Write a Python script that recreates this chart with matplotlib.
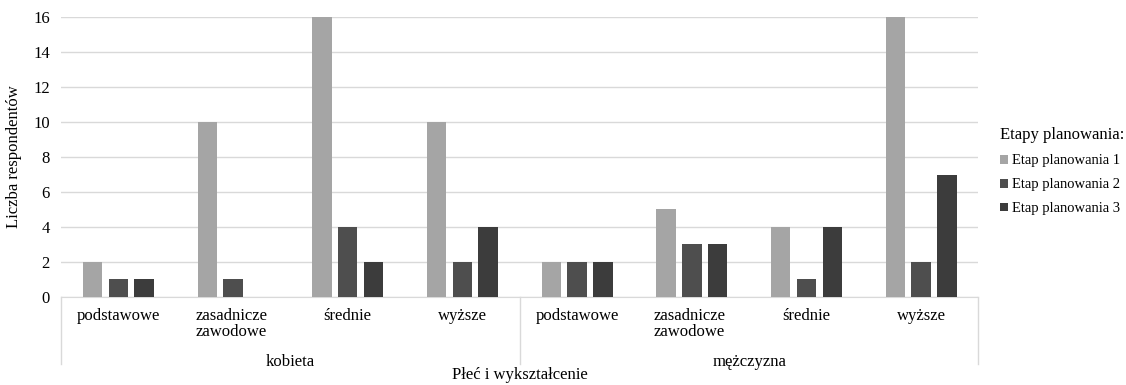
import matplotlib
matplotlib.use('Agg')
import matplotlib.pyplot as plt
import numpy as np

plt.rcParams['font.family'] = ['Liberation Serif', 'DejaVu Serif']

genders = ["kobieta", "mężczyzna"]
education = ["podstawowe", "zasadnicze\nzawodowe", "średnie", "wyższe"]
series_names = ["Etap planowania 1", "Etap planowania 2", "Etap planowania 3"]
stage1 = [2, 10, 16, 10, 2, 5, 4, 16]
stage2 = [1, 1, 4, 2, 2, 3, 1, 2]
stage3 = [1, 0, 2, 4, 2, 3, 4, 7]
colors = ["#a5a5a5", "#4e4e4e", "#3c3c3c"]

fig = plt.figure(figsize=(11.26, 3.85), dpi=100)
ax = fig.add_axes([0.0542, 0.2286, 0.8148, 0.7272])

n = len(stage1)
x = np.arange(n)
width = 0.17
step = 0.225
for i, (vals, name) in enumerate(zip([stage1, stage2, stage3], series_names)):
    ax.bar(x + (i - 1) * step, vals, width, color=colors[i], label=name, zorder=3)

ax.set_xlim(-0.5, n - 0.5)
ax.set_ylim(0, 16)
ax.set_yticks(range(0, 17, 2))
ax.yaxis.grid(True, color="#d9d9d9", linewidth=1, zorder=0)
for s in ["top", "right", "left"]:
    ax.spines[s].set_visible(False)
ax.spines["bottom"].set_color("#d9d9d9")
ax.tick_params(axis="y", length=0, labelsize=12, pad=8)
ax.tick_params(axis="x", length=0, labelbottom=False)

# category labels under each bar group (wrapped ones are left aligned)
for i in range(n):
    label = education[i % 4]
    wrapped = "\n" in label
    ax.text(i - 0.33 if wrapped else i, -0.04, label,
            transform=ax.get_xaxis_transform(),
            ha="left" if wrapped else "center", va="top",
            fontsize=12, linespacing=0.95)

# gender group labels and separators
for g, name in enumerate(genders):
    ax.text(g * 4 + 1.5, -0.205, name, transform=ax.get_xaxis_transform(),
            ha="center", va="top", fontsize=12)
for xs in [-0.5, 3.5, 7.5]:
    ax.plot([xs, xs], [0, -0.24], transform=ax.get_xaxis_transform(),
            color="#d9d9d9", linewidth=1, clip_on=False)

ax.set_ylabel("Liczba respondentów", fontsize=12, labelpad=8)
fig.text(0.462, 0.005, "Płeć i wykształcenie", ha="center", va="bottom", fontsize=12)

fig.legend(loc="center left", bbox_to_anchor=(0.876, 0.555), frameon=False,
           title="Etapy planowania:", title_fontsize=12, fontsize=10.5,
           handlelength=0.55, handleheight=0.55, handletextpad=0.3,
           labelspacing=0.75, alignment="left")

plt.savefig("out.png", dpi=100)
plt.close(fig)
